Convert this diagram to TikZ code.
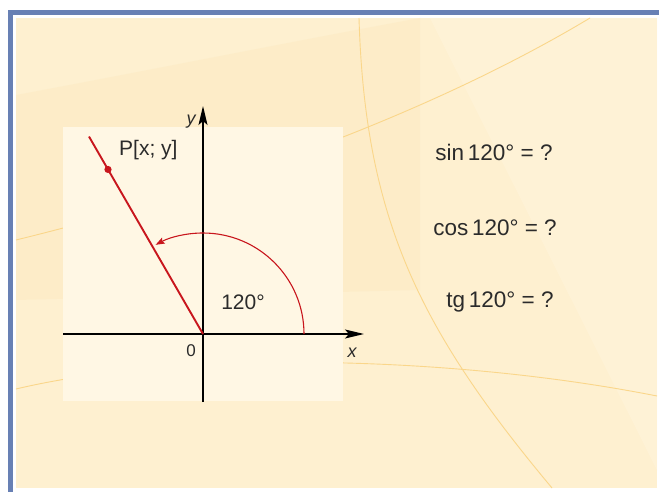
\documentclass[tikz,border=0pt]{standalone}
\usepackage{fontspec}
\setmainfont{Liberation Sans}
\usetikzlibrary{arrows.meta,calc}
\definecolor{cream}{HTML}{FEF0D0}
\definecolor{creamlight}{HTML}{FFF7E4}
\definecolor{creamdark}{HTML}{FCE6B8}
\definecolor{curvecol}{HTML}{FAD68A}
\definecolor{frameblue}{HTML}{6880B4}
\definecolor{rayred}{HTML}{C8161D}
\definecolor{txt}{HTML}{2B2B2B}
\tikzset{
  curve/.style={draw=curvecol, line width=0.9pt},
  axis/.style={draw=black, line width=1.3pt, -{Stealth[length=19pt,width=9pt,inset=4pt]}},
  ray/.style={draw=rayred, line width=1.9pt},
  angarc/.style={draw=rayred, line width=1.1pt, -{Stealth[length=9pt,width=6.5pt,inset=1.5pt]}},
  lbl/.style={text=txt, font=\fontsize{21}{23}\selectfont, inner sep=0pt},
  trig/.style={text=txt, font=\fontsize{22.5}{25}\selectfont, inner sep=0pt},
  axlbl/.style={text=txt, font=\fontsize{18}{20}\selectfont\itshape, inner sep=0pt},
}
\begin{document}
\begin{tikzpicture}[x=1pt,y=-1pt]
\useasboundingbox (0,0) rectangle (659,492);
\fill[white] (0,0) rectangle (659,492);
% cream panel
\fill[cream] (16,18) rectangle (657,488);
% subtle shading
\fill[creamdark,opacity=0.3] (16,95) .. controls (150,70) and (300,40) .. (420,18) -- (420,290) -- (16,300) -- cycle;
\fill[creamlight,opacity=0.35] (430,18) -- (657,18) -- (657,470) -- cycle;
% background curves
\draw[curve] (16,240) .. controls (200,195) and (420,120) .. (590,18);
\draw[curve] (16,389) .. controls (180,350) and (450,355) .. (657,396);
\draw[curve] (359,18) .. controls (365,220) and (420,330) .. (552,488);
% frame
\draw[frameblue, line width=5pt] (10.5,492) -- (10.5,12.5) -- (659,12.5);
% light panel
\fill[creamlight] (63,127) rectangle (343,401);
% axes
\coordinate (O) at (203,334);
\coordinate (xl) at (63,334);
\coordinate (xr) at (364,334);
\coordinate (yb) at (203,402);
\coordinate (yt) at (203,106);
\draw[axis] (xl) -- (xr);
\draw[axis] (yb) -- (yt);
% ray and point
\coordinate (R) at ($(O)+(120:228pt)$);
\coordinate (P) at ($(O)+(120:190pt)$);
\draw[ray] (O) -- (R);
\fill[rayred] (P) circle (3.6pt);
% angle arc
\coordinate (A0) at ($(O)+(0:101pt)$);
\draw[angarc] (A0) arc[start angle=0, end angle=118, radius=101pt];
% labels
\node[lbl, anchor=west] (Plbl) at (119,150) {P[x; y]};
\node[lbl] (ang) at (243,302) {120°};
\node[axlbl] (ylbl) at (191,122) {y};
\node[axlbl] (xlbl) at (352,353) {x};
\node[text=txt, font=\fontsize{17}{19}\selectfont, inner sep=0pt] (zero) at (191,351) {0};
\node[trig] (sin) at (494,152) {sin\,120° = ?};
\node[trig] (cos) at (495,228) {cos\,120° = ?};
\node[trig] (tg) at (500,302) {tg\,120° = ?};
\end{tikzpicture}
\end{document}
